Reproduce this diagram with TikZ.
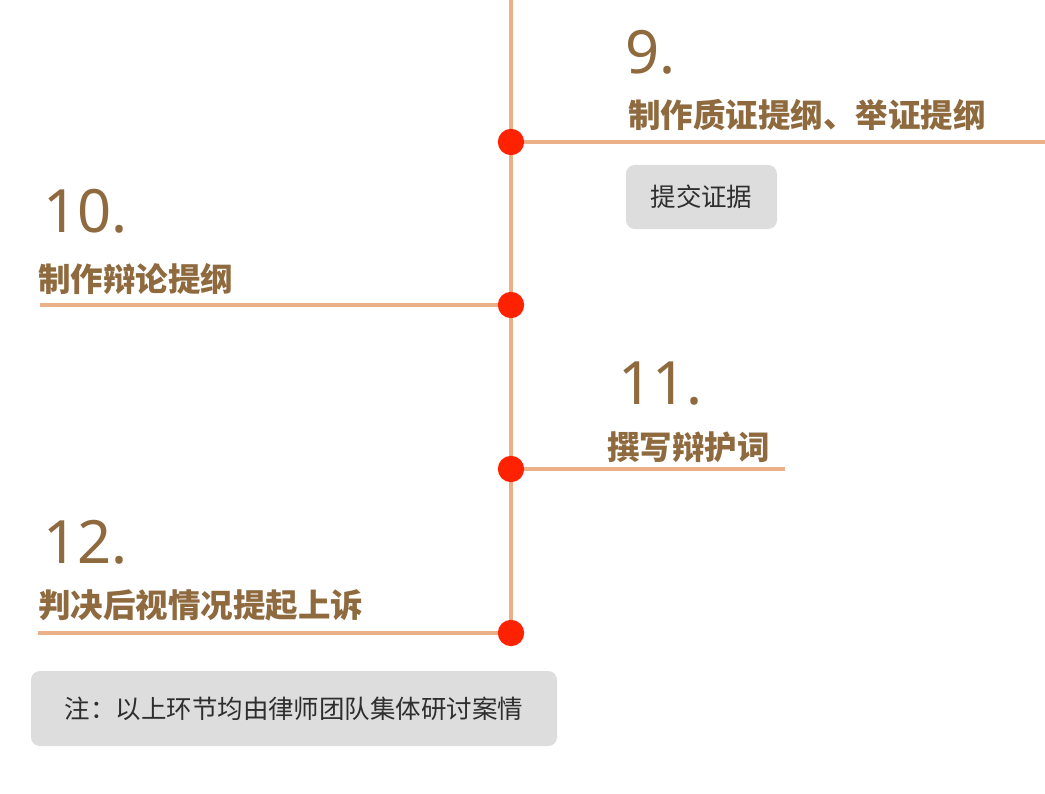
\documentclass[tikz,border=0pt]{standalone}
\usepackage{fontspec}
\setmainfont{Noto Sans}
\newfontfamily\cjk{Noto Sans CJK SC}
\usetikzlibrary{positioning,backgrounds}
\definecolor{linecol}{HTML}{EBB088}
\definecolor{dotcol}{HTML}{FF2200}
\definecolor{brown}{HTML}{8E6A3E}
\definecolor{boxgray}{HTML}{DDDDDD}
\definecolor{boxtext}{HTML}{2E2E2E}
\tikzset{
    stage/.style={circle, fill=dotcol, inner sep=0pt, minimum size=15pt},
    stepnum/.style={anchor=west, inner sep=0pt, text=brown, font=\fontsize{34}{34}\selectfont},
    steptitle/.style={anchor=west, inner sep=0pt, text=brown, font=\cjk\bfseries\fontsize{18.5}{18.5}\selectfont},
    notebox/.style={fill=boxgray, rounded corners=5pt, text=boxtext, font=\cjk\fontsize{14.5}{14.5}\selectfont, inner sep=0pt},
    branch/.style={linecol, line width=1.9pt}
}
\begin{document}
\begin{tikzpicture}[x=0.02cm, y=-0.02cm]
        \useasboundingbox (0,0) rectangle (1045,794);

        % timeline
        \coordinate (top) at (511,0);
        \node[stage] (s9) at (511,142) {};
        \node[stage] (s10) at (511,305) {};
        \node[stage] (s11) at (511,469) {};
        \node[stage] (s12) at (511,633) {};
        \coordinate (e9) at (1045,142);
        \coordinate (e10) at (40,305);
        \coordinate (e11) at (785,469);
        \coordinate (e12) at (38,633);
        \begin{pgfonlayer}{background}
        \draw [branch] (top) -- (s9.center) -- (s10.center) -- (s11.center) -- (s12.center);
        \foreach \i in {9,...,12} {
            \draw [branch] (s\i.center) -- (e\i);
        }
        \end{pgfonlayer}

        % labels
        \node[stepnum] (n9) at (625,52) {9.};
        \node[steptitle] (t9) at (628,115) {制作质证提纲、举证提纲};
        \node[stepnum] (n10) at (43,211) {10.};
        \node[steptitle] (t10) at (38,279) {制作辩论提纲};
        \node[stepnum] (n11) at (618,384) {11.};
        \node[steptitle] (t11) at (607,447) {撰写辩护词};
        \node[stepnum] (n12) at (43,542) {12.};
        \node[steptitle] (t12) at (38,605) {判决后视情况提起上诉};

        % boxes
        \node[notebox, minimum width=151*0.02cm, minimum height=64*0.02cm] (b9) at (701.5,197) {提交证据};
        \node[notebox, minimum width=526*0.02cm, minimum height=75*0.02cm] (note) at (294,708.5) {注：以上环节均由律师团队集体研讨案情};
\end{tikzpicture}
\end{document}
